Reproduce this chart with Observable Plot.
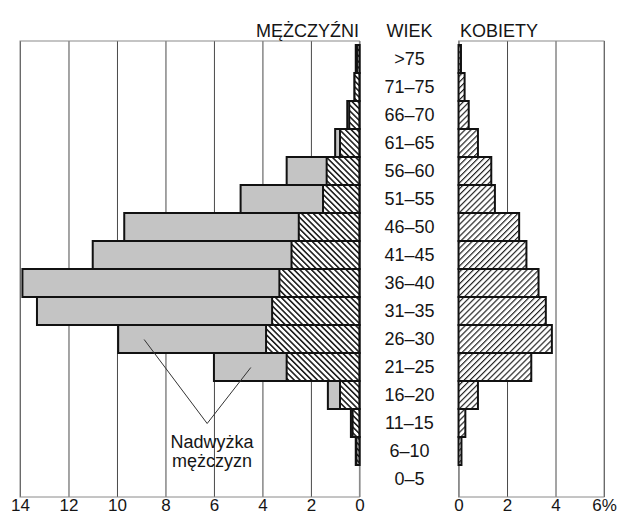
<!DOCTYPE html>
<html>
<head>
<meta charset="utf-8">
<script src="https://cdn.jsdelivr.net/npm/d3@7"></script>
<script src="https://cdn.jsdelivr.net/npm/@observablehq/plot@0.6"></script>
<style>
  html, body { margin: 0; padding: 0; background: #ffffff; }
  #chart { width: 620px; height: 517px; }
</style>
</head>
<body>
<div id="chart"></div>
<script>
// ---- data ----
const ages = [">75", "71–75", "66–70", "61–65", "56–60", "51–55", "46–50", "41–45",
              "36–40", "31–35", "26–30", "21–25", "16–20", "11–15", "6–10", "0–5"];
// men, total share (%) per age group
const men = [0.15, 0.2, 0.5, 1.0, 3.0, 4.9, 9.7, 11.0, 13.9, 13.3, 9.95, 6.0, 1.3, 0.35, 0.15, 0];
// women, share (%) per age group
const women = [0.1, 0.25, 0.42, 0.8, 1.35, 1.5, 2.5, 2.8, 3.3, 3.6, 3.85, 3.0, 0.8, 0.28, 0.12, 0];
const leftTicks = [14, 12, 10, 8, 6, 4, 2, 0];
const rightTicks = [0, 2, 4, 6];
const rightTickLabels = ["0", "2", "4", "6%"];
const headerMen = "MĘŻCZYŹNI";
const headerAge = "WIEK";
const headerWomen = "KOBIETY";
const noteText = "Nadwyżka\nmężczyzn";
// annotation: label position and leader ends (value units, age row)
const noteAt = {x: -6.1, age: "6–10"};
const leaderFrom = {x: -6.3, age: "11–15"};
const leaderTo = [{x: -8.9, age: "26–30"}, {x: -4.5, age: "21–25"}];

// ---- layout constant: gap between the two panels, in value units ----
const GAP = 4.09;

const rows = ages.map((age, i) => ({age, m: men[i], w: women[i]}));
const menBars = rows.filter(d => d.m > 0);
const womenBars = rows.filter(d => d.w > 0);
const leaders = leaderTo.map(t => ({x1: leaderFrom.x, y1: leaderFrom.age, x2: t.x, y2: t.age}));
const panels = [{a: -leftTicks[0], b: 0}, {a: GAP, b: GAP + rightTicks[rightTicks.length - 1]}];

const FONT = "'Liberation Sans', Arial, Helvetica, sans-serif";

const chart = Plot.plot({
  width: 620,
  height: 517,
  marginTop: 41,
  marginBottom: 20,
  marginLeft: 20,
  marginRight: 16,
  style: {fontFamily: FONT, fontSize: "18px", background: "#ffffff", color: "#151515", overflow: "visible"},
  x: {domain: [-leftTicks[0], GAP + rightTicks[rightTicks.length - 1]], label: null},
  y: {domain: ages, padding: 0, axis: null, label: null},
  marks: [
    // vertical grid lines
    Plot.ruleX(leftTicks.map(v => -v), {x: d => d, stroke: "#4a4a4a", strokeWidth: 1}),
    Plot.ruleX(rightTicks.map(v => v + GAP), {x: d => d, stroke: "#4a4a4a", strokeWidth: 1}),
    // panel frames
    Plot.rect(panels, {x1: "a", x2: "b", fill: "none", stroke: "#8a8a8a", strokeWidth: 1}),
    // men: total (gray = excess) then the part matched by women (hatched)
    Plot.barX(menBars, {y: "age", x1: d => -d.m, x2: 0, fill: "#c4c4c4", stroke: "#111", strokeWidth: 2}),
    Plot.barX(menBars, {y: "age", x1: d => -Math.min(d.w, d.m), x2: 0, fill: "url(#hatchL)", stroke: "#111", strokeWidth: 2}),
    // women
    Plot.barX(womenBars, {y: "age", x1: GAP, x2: d => GAP + d.w, fill: "url(#hatchR)", stroke: "#111", strokeWidth: 2}),
    // annotation leaders
    Plot.link(leaders, {x1: "x1", y1: "y1", x2: "x2", y2: "y2", stroke: "#333", strokeWidth: 1}),
    Plot.text([noteAt], {x: "x", y: "age", text: () => noteText, fontSize: 18, lineHeight: 1.05, textAnchor: "middle", fill: "#151515"}),
    // age labels in the middle column
    Plot.text(ages, {x: () => GAP / 2, y: d => d, text: d => d, fontSize: 18, textAnchor: "middle", fill: "#151515"}),
    // column headers
    Plot.text([headerMen], {x: () => 0, frameAnchor: "top", dy: -17, dx: -1, text: d => d, textAnchor: "end", fontSize: 18, fill: "#151515"}),
    Plot.text([headerAge], {x: () => GAP / 2, frameAnchor: "top", dy: -17, text: d => d, textAnchor: "middle", fontSize: 18, fill: "#151515"}),
    Plot.text([headerWomen], {x: () => GAP, frameAnchor: "top", dy: -17, dx: 1, text: d => d, textAnchor: "start", fontSize: 18, fill: "#151515"}),
    // axes
    Plot.axisX(leftTicks.map(v => -v), {anchor: "bottom", tickSize: 0, tickPadding: 1, tickFormat: d => `${Math.abs(d)}`, label: null, fontSize: 17}),
    Plot.axisX(rightTicks.map(v => v + GAP), {anchor: "bottom", tickSize: 0, tickPadding: 1, tickFormat: (d, i) => rightTickLabels[i], label: null, fontSize: 17})
  ]
});

// hatch patterns
const defs = d3.select(chart).insert("defs", ":first-child");
const pL = defs.append("pattern").attr("id", "hatchL").attr("patternUnits", "userSpaceOnUse")
  .attr("width", 4.1).attr("height", 4.1).attr("patternTransform", "rotate(-45)");
pL.append("rect").attr("width", 4.1).attr("height", 4.1).attr("fill", "#ffffff");
pL.append("line").attr("x1", 0.8).attr("y1", 0).attr("x2", 0.8).attr("y2", 4.1).attr("stroke", "#111").attr("stroke-width", 1.5);
const pR = defs.append("pattern").attr("id", "hatchR").attr("patternUnits", "userSpaceOnUse")
  .attr("width", 4.2).attr("height", 4.2).attr("patternTransform", "rotate(45)");
pR.append("rect").attr("width", 4.2).attr("height", 4.2).attr("fill", "#ffffff");
pR.append("line").attr("x1", 0.6).attr("y1", 0).attr("x2", 0.6).attr("y2", 4.2).attr("stroke", "#111").attr("stroke-width", 1.1);

document.getElementById("chart").appendChild(chart);
</script>
</body>
</html>
